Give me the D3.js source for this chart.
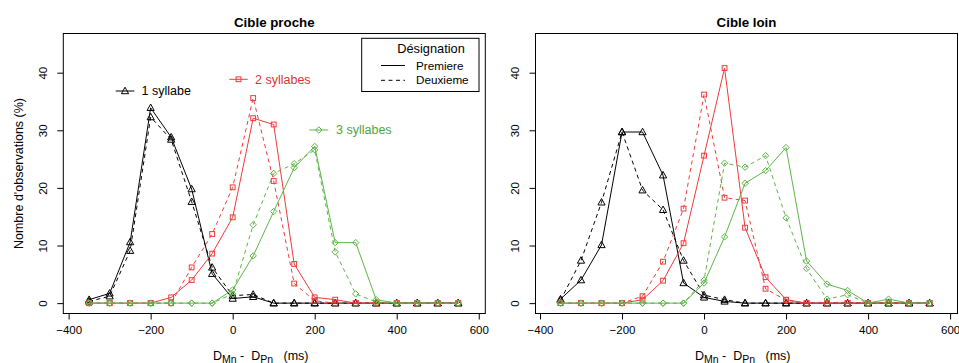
<!DOCTYPE html>
<html><head><meta charset="utf-8">
<script src="https://cdn.jsdelivr.net/npm/d3@7"></script>
<style>
html,body{margin:0;padding:0;background:#fff;}
svg{display:block;font-family:"Liberation Sans",Arial,Helvetica,sans-serif;}
</style></head>
<body><svg id="chart" width="959" height="363"></svg>
<script>
// ---- data ----
const delays = [-350,-300,-250,-200,-150,-100,-50,0,50,100,150,200,250,300,350,400,450,500,550];
const xTicks = [-400,-200,0,200,400,600];
const yTicks = [0,10,20,30,40];
const panelTitles = ["Cible proche","Cible loin"];
const seriesNames = ["1 syllabe","2 syllabes","3 syllabes"];
const legendTitle = "Désignation";
const legendItems = ["Premiere","Deuxieme"];

// Cible proche
const proche1Premiere = [0.6,1.7,10.6,33.9,28.8,19.8,5.1,0.8,1.1,0,0,0,0,0,0,0,0,0,0];
const proche1Deuxieme = [0.3,1.2,9.1,32.3,28.4,17.6,6.2,1.3,1.5,0,0,0,0,0,0,0,0,0,0];
const proche2Premiere = [0,0,0,0,1.0,4.0,8.6,14.9,32.1,31.0,6.8,1.0,0.6,0,0,0,0,0,0];
const proche2Deuxieme = [0,0,0,0,0,6.2,12.0,20.1,35.6,21.2,3.4,0.4,0,0,0,0,0,0,0];
const proche3Premiere = [0,0,0,0,0,0,0,2.3,8.2,15.9,23.5,27.2,10.5,10.5,0.6,0,0,0,0];
const proche3Deuxieme = [0,0,0,0,0,0,0,1.6,13.6,22.5,24.2,26.6,8.9,1.6,0.2,0,0,0,0];
// Cible loin
const loin1Premiere = [0.7,4.0,10.1,29.7,29.7,22.2,3.5,1.0,0.3,0,0,0,0,0,0,0,0,0,0];
const loin1Deuxieme = [0.5,7.4,17.5,29.7,19.6,16.2,7.4,1.4,0.6,0,0,0,0,0,0,0,0,0,0];
const loin2Premiere = [0,0,0,0,0.6,3.9,10.4,25.6,40.8,13.1,4.5,0.6,0,0,0,0,0,0,0];
const loin2Deuxieme = [0,0,0,0,1.2,7.2,16.4,36.2,18.3,17.8,2.5,0.5,0,0,0,0,0,0,0];
const loin3Premiere = [0,0,0,0,0,0,0,3.5,11.5,20.8,23.0,27.0,7.3,3.3,2.2,0,0.7,0,0];
const loin3Deuxieme = [0,0,0,0,0,0,0,4.0,24.3,23.6,25.6,14.8,6.0,0.7,1.45,0,0,0,0];

const colors = ["#000000","#f03a3a","#5cb646"];
const shapes = ["triangle","square","diamond"];

const panels = [
  {title:panelTitles[0], left:63.3, right:485.3, domain:[-413,616],
   series:[[proche1Premiere,proche1Deuxieme],[proche2Premiere,proche2Deuxieme],[proche3Premiere,proche3Deuxieme]],
   xlabStart:213},
  {title:panelTitles[1], left:535.5, right:957.5, domain:[-411,618],
   series:[[loin1Premiere,loin1Deuxieme],[loin2Premiere,loin2Deuxieme],[loin3Premiere,loin3Deuxieme]],
   xlabStart:695}
];
const plotTop = 33.5, plotBottom = 313.5;
const svg = d3.select("#chart");
const y = d3.scaleLinear().domain([-1.8,46.8]).range([plotBottom, plotTop]);

function marker(g, shape, cx, cy, color){
  if(shape==="triangle"){
    const s=3.6;
    g.append("path").attr("d",`M${cx},${cy-s*1.05}L${cx+s},${cy+s*0.75}L${cx-s},${cy+s*0.75}Z`)
      .attr("fill","none").attr("stroke",color).attr("stroke-width",1);
  } else if(shape==="square"){
    const s=2.4;
    g.append("rect").attr("x",cx-s).attr("y",cy-s).attr("width",2*s).attr("height",2*s)
      .attr("fill","none").attr("stroke",color).attr("stroke-width",1);
  } else {
    const s=3.2;
    g.append("path").attr("d",`M${cx},${cy-s}L${cx+s},${cy}L${cx},${cy+s}L${cx-s},${cy}Z`)
      .attr("fill","none").attr("stroke",color).attr("stroke-width",1);
  }
}

const font = "12.5px";
panels.forEach((p,pi)=>{
  const x = d3.scaleLinear().domain(p.domain).range([p.left,p.right]);
  const g = svg.append("g");
  p.series.forEach((pair,si)=>{
    pair.forEach((vals,li)=>{
      const line = d3.line().x((d,i)=>x(delays[i])).y(d=>y(d));
      g.append("path").datum(vals).attr("d",line).attr("fill","none")
        .attr("stroke",colors[si]).attr("stroke-width",1)
        .attr("stroke-dasharray", li===1 ? "4,3.5" : null);
      vals.forEach((v,i)=>marker(g,shapes[si],x(delays[i]),y(v),colors[si]));
    });
  });
  svg.append("rect").attr("x",p.left).attr("y",plotTop).attr("width",p.right-p.left).attr("height",plotBottom-plotTop)
    .attr("fill","none").attr("stroke","#000").attr("stroke-width",1);
  const ax = svg.append("g").attr("transform",`translate(0,${plotBottom})`)
    .call(d3.axisBottom(x).tickValues(xTicks).tickSize(6).tickPadding(4).tickFormat(d3.format("d")));
  ax.select(".domain").remove();
  ax.selectAll("text").attr("font-size","11.5px").attr("font-family","Liberation Sans, Arial, sans-serif").attr("fill","#000").attr("dy","0.9em");
  const ay = svg.append("g").attr("transform",`translate(${p.left},0)`)
    .call(d3.axisLeft(y).tickValues(yTicks).tickSize(6).tickFormat(d3.format("d")));
  ay.select(".domain").remove();
  ay.selectAll("text").attr("font-size","11.5px").attr("font-family","Liberation Sans, Arial, sans-serif").attr("fill","#000")
    .attr("text-anchor","middle").attr("x",null).attr("dy",null)
    .attr("transform",function(d){return `translate(${-16.2},0) rotate(-90)`;});
  svg.append("text").attr("x",(p.left+p.right)/2).attr("y",26.5).attr("text-anchor","middle")
    .attr("font-weight","bold").attr("font-size","13.3px").text(p.title);
  const xl = svg.append("text").attr("x",p.xlabStart).attr("y",359.5).attr("font-size",font).style("white-space","pre");
  xl.append("tspan").text("D");
  xl.append("tspan").attr("font-size","10.5px").attr("dy",3).text("Mn");
  xl.append("tspan").attr("dy",-3).text(" -  D");
  xl.append("tspan").attr("font-size","10.5px").attr("dy",3).text("Pn");
  xl.append("tspan").attr("dy",-3).text("   (ms)");
});

svg.append("text").attr("transform",`translate(22.5,${(plotTop+plotBottom)/2}) rotate(-90)`)
  .attr("text-anchor","middle").attr("font-size",font).text("Nombre d'observations (%)");

const inl = [
  {lx1:115.7, lx2:134.3, ly:91, tx:141.5, ty:94.5},
  {lx1:229.3, lx2:247.7, ly:79.3, tx:255, ty:83.5},
  {lx1:309.3, lx2:328.3, ly:130, tx:336, ty:134.3}
];
inl.forEach((o,i)=>{
  svg.append("line").attr("x1",o.lx1).attr("x2",o.lx2).attr("y1",o.ly).attr("y2",o.ly)
    .attr("stroke",colors[i]).attr("stroke-width",1);
  marker(svg,shapes[i],(o.lx1+o.lx2)/2,o.ly,colors[i]);
  svg.append("text").attr("x",o.tx).attr("y",o.ty).attr("font-size",font)
    .attr("fill", i===0 ? "#000" : d3.color(colors[i]).darker(0.3)).text(seriesNames[i]);
});

svg.append("rect").attr("x",361.7).attr("y",38.3).attr("width",479-361.7).attr("height",91.5-38.3)
  .attr("fill","#fff").attr("stroke","#000").attr("stroke-width",1);
svg.append("text").attr("x",431).attr("y",53.3).attr("text-anchor","middle").attr("font-size","12.8px").text(legendTitle);
legendItems.forEach((t,i)=>{
  const yy = 69.5 + i*14.8;
  svg.append("line").attr("x1",381).attr("x2",405).attr("y1",yy-4).attr("y2",yy-4)
    .attr("stroke","#000").attr("stroke-width",1).attr("stroke-dasharray", i===1 ? "4,3.5" : null);
  svg.append("text").attr("x",416).attr("y",yy).attr("font-size","11.7px").text(t);
});
</script></body></html>
